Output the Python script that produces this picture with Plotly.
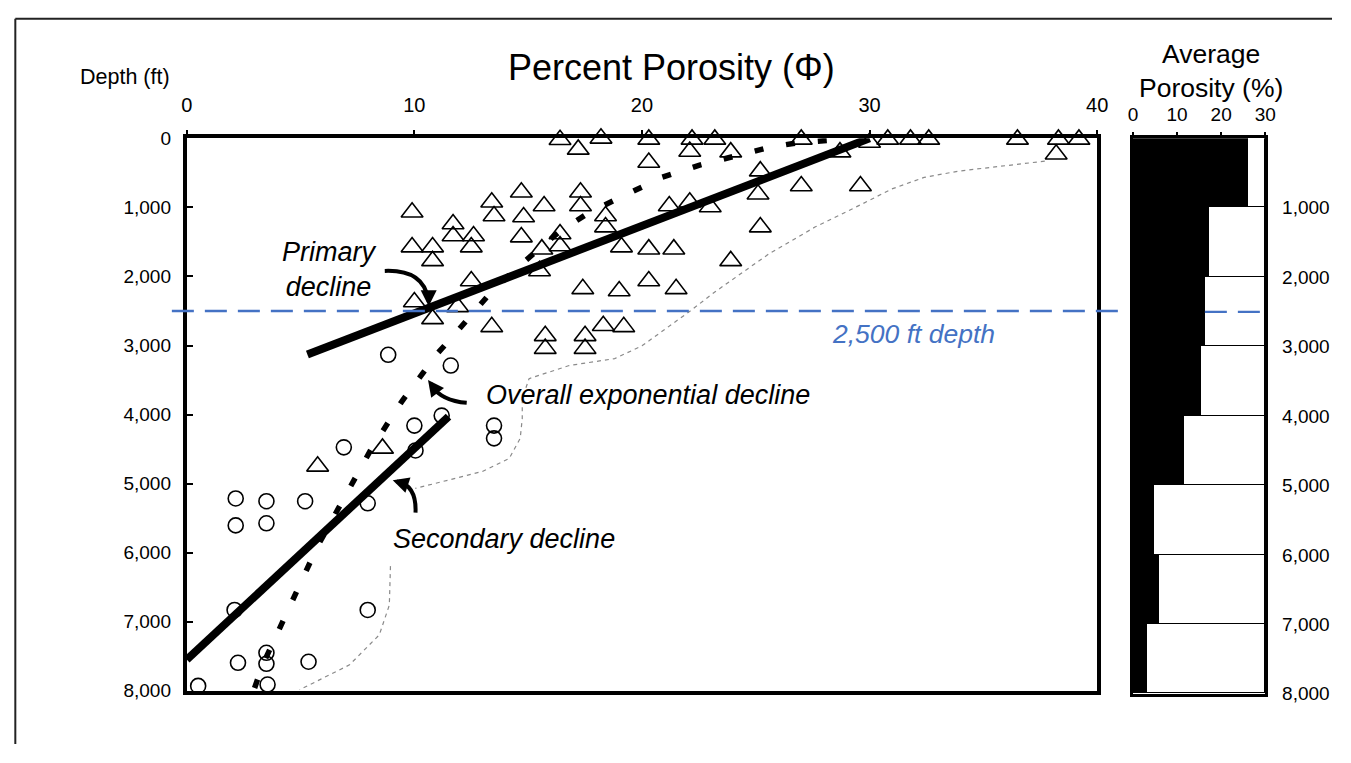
import plotly.graph_objects as go

# figure size (page body adds an 8px margin, so keep it inside the 1351x763 window)
WIN_W, WIN_H = 1351, 763
BODY = 8
W, H = WIN_W - 2 * BODY, WIN_H - 2 * BODY

# ---- data ----
# open triangles: porosity (%) and depth (ft)
tri_phi = [16.4, 17.2, 18.2, 20.3, 22.2, 23.2, 27.0, 30.0, 30.8, 31.8, 32.6, 36.5, 38.3, 39.2, 38.2, 28.7,
           22.1, 23.9, 20.3, 25.2, 27.0, 29.6,
           21.2, 22.1, 23.0, 25.1, 18.4, 18.4, 25.2,
           19.1, 20.3, 21.4, 23.9, 20.3, 19.0, 21.5,
           9.9, 13.4, 13.5, 14.7, 14.8, 15.7, 17.3, 17.3,
           11.7, 11.7, 12.6, 12.5, 9.9, 10.8, 10.8,
           14.7, 15.6, 16.4, 16.4, 15.5, 12.5, 17.4,
           10.0, 10.8, 11.9, 13.4, 15.75, 15.75, 17.5, 17.5, 18.3, 19.2,
           8.6, 5.75]
tri_depth = [20, 160, 0, 15, 15, 15, 15, 60, 15, 15, 15, 15, 15, 15, 230, 200,
             190, 200, 350, 475, 690, 690,
             980, 925, 995, 810, 1125, 1285, 1285,
             1575, 1605, 1605, 1775, 2065, 2210, 2180,
             1070, 925, 1125, 780, 1140, 980, 780, 980,
             1240, 1415, 1415, 1575, 1575, 1575, 1775,
             1430, 1605, 1385, 1560, 1920, 2065, 2180,
             2370, 2615, 2440, 2730, 2860, 3045, 2860, 3045, 2715, 2730,
             4490, 4750]

# open circles
circ_phi = [2.15, 3.5, 5.2, 7.95, 2.15, 3.5, 2.1, 7.95, 3.5, 2.25, 3.5, 5.35, 0.5, 3.55,
            6.9, 8.85, 11.6, 10.0, 11.2, 13.5, 13.5, 10.05]
circ_depth = [5215, 5255, 5255, 5285, 5605, 5575, 6830, 6830, 7450, 7595, 7610, 7580, 7930, 7910,
              4475, 3135, 3290, 4160, 4015, 4160, 4345, 4520]

# trend lines
primary_phi = [5.3, 30.0]
primary_depth = [3130, 0]
secondary_phi = [0.0, 11.5]
secondary_depth = [7550, 4030]

# overall exponential decline (dotted)
expo_phi = [2.98, 3.33, 3.68, 4.34, 5.09, 5.75, 6.71, 7.37, 8.07, 8.82, 9.47, 10.26, 11.0, 11.67,
            12.59, 13.42, 14.6, 15.2, 16.36, 17.7, 19.2, 20.88, 22.5, 25.6, 26.9, 29.0]
expo_depth = [7960, 7625, 7380, 6915, 6395, 5905, 5330, 4925, 4520, 4130, 3800, 3450, 3120, 2875,
              2515, 2210, 1850, 1675, 1355, 1070, 825, 565, 390, 130, 60, 10]

# grey dashed envelope (two pieces)
env_phi = [37.7, 35.8, 33.9, 32.4, 30.96, 29.65, 27.6, 25.57, 23.2, 22.06, 20.0, 18.8, 16.8, 15.04,
           14.74, 14.74, 14.65, 14.17, 12.98, 10.04, None,
           8.95, 8.9, 8.46, 7.15, 4.96]
env_depth = [330, 405, 475, 565, 735, 955, 1285, 1675, 2225, 2515, 3005, 3190, 3290, 3480,
             3770, 4060, 4345, 4635, 4825, 5070, None,
             6195, 6760, 7190, 7625, 7985]

# average porosity per 1,000 ft interval
avg_depth_mid = [500, 1500, 2500, 3500, 4500, 5500, 6500, 7500]
avg_porosity = [26.1, 17.3, 16.3, 15.5, 11.6, 4.7, 5.9, 3.2]
avg_scale_max = 30

marker_depth = 2500


# screenshot pixel -> paper fraction (corrects the small offset/scale seen in the capture)
def px(x):
    return ((x - 3.4) / 0.9923 - BODY) / W


def py(y):
    return 1 - ((y - 10.5) / 0.9747 - BODY) / H


FONT = "Liberation Sans, Arial, sans-serif"
BLUE = "#4472C4"

fig = go.Figure()

fig.add_trace(go.Scatter(x=env_phi, y=env_depth, mode="lines",
                         line=dict(color="#8a8a8a", width=1.2, dash="4px,4px"),
                         hoverinfo="skip", showlegend=False))
fig.add_trace(go.Scatter(x=expo_phi, y=expo_depth, mode="lines",
                         line=dict(color="black", width=5.5, dash="9px,23px"),
                         hoverinfo="skip", showlegend=False))
fig.add_trace(go.Scatter(x=tri_phi, y=tri_depth, mode="markers", cliponaxis=False,
                         marker=dict(symbol="triangle-up-open", size=19, color="black",
                                     line=dict(width=1.6, color="black")),
                         showlegend=False))
fig.add_trace(go.Scatter(x=circ_phi, y=circ_depth, mode="markers", cliponaxis=False,
                         marker=dict(symbol="circle-open", size=15, color="black",
                                     line=dict(width=1.6, color="black")),
                         showlegend=False))
fig.add_trace(go.Scatter(x=primary_phi, y=primary_depth, mode="lines",
                         line=dict(color="black", width=8), showlegend=False))
fig.add_trace(go.Scatter(x=secondary_phi, y=secondary_depth, mode="lines",
                         line=dict(color="black", width=8), showlegend=False))

# right panel: average porosity bars
remainder = [avg_scale_max - v for v in avg_porosity]
fig.add_trace(go.Bar(y=avg_depth_mid, x=avg_porosity, orientation="h", width=1000,
                     marker=dict(color="black", line=dict(width=0)),
                     xaxis="x2", yaxis="y2", showlegend=False))
fig.add_trace(go.Bar(y=avg_depth_mid, x=remainder, orientation="h", width=1000,
                     marker=dict(color="white", line=dict(width=1.2, color="black")),
                     xaxis="x2", yaxis="y2", showlegend=False))

depth_ticks = [0, 1000, 2000, 3000, 4000, 5000, 6000, 7000, 8000]

shapes = [
    # outer frame of the picture
    dict(type="line", xref="paper", yref="paper", x0=0.001, x1=1, y0=0.999, y1=0.999,
         line=dict(color="#222", width=2)),
    dict(type="line", xref="paper", yref="paper", x0=0.001, x1=0.001, y0=0.999, y1=0,
         line=dict(color="#222", width=2)),
    # 2,500 ft marker
    dict(type="line", xref="paper", yref="y", x0=px(170), x1=px(1126), y0=marker_depth, y1=marker_depth,
         line=dict(color=BLUE, width=2.4, dash="22px,11px"), layer="above"),
    dict(type="line", xref="x2", yref="y2", x0=avg_porosity[2], x1=avg_scale_max,
         y0=marker_depth, y1=marker_depth,
         line=dict(color=BLUE, width=2.4, dash="22px,11px"), layer="above"),
    # curved arrows
    dict(type="path", xref="x", yref="y", path="M 8.7,1920 Q 10.4,1900 10.6,2330",
         line=dict(color="black", width=4)),
    dict(type="path", xref="x", yref="y", path="M 12.3,3830 Q 11.2,3800 10.75,3580",
         line=dict(color="black", width=4)),
    dict(type="path", xref="x", yref="y", path="M 10.05,5420 Q 10.1,5040 9.3,4970",
         line=dict(color="black", width=4)),
]


def label(x, y, text, size, color="black", xanchor="center"):
    return dict(x=px(x), y=py(y), xref="paper", yref="paper", text=text, showarrow=False,
                xanchor=xanchor, yanchor="middle", font=dict(size=size, color=color))


annotations = [
    label(672, 68, "Percent Porosity (Φ)", 36),
    label(123, 77, "Depth (ft)", 21.5),
    label(1214, 71, "Average<br>Porosity (%)", 26.5),
    label(328, 271, "<i>Primary<br>decline</i>", 27),
    label(484, 396, "<i>Overall exponential decline</i>", 27, xanchor="left"),
    label(390, 541, "<i>Secondary decline</i>", 27, xanchor="left"),
    label(832, 335, "<i>2,500 ft depth</i>", 26.5, color=BLUE, xanchor="left"),
    # arrow heads
    dict(x=10.63, y=2430, xref="x", yref="y", text="", showarrow=True, ax=0, ay=-9,
         arrowhead=2, arrowsize=0.8, arrowwidth=4, arrowcolor="black"),
    dict(x=10.6, y=3500, xref="x", yref="y", text="", showarrow=True, ax=6, ay=8,
         arrowhead=2, arrowsize=0.8, arrowwidth=4, arrowcolor="black"),
    dict(x=9.05, y=4950, xref="x", yref="y", text="", showarrow=True, ax=9, ay=3,
         arrowhead=2, arrowsize=0.8, arrowwidth=4, arrowcolor="black"),
]

tick_font = dict(family=FONT, size=19, color="black")

fig.update_layout(
    width=W, height=H, autosize=False,
    margin=dict(l=0, r=0, t=0, b=0),
    paper_bgcolor="white", plot_bgcolor="white",
    font=dict(family=FONT, color="black"),
    barmode="stack", bargap=0,
    xaxis=dict(domain=[px(185), px(1100)], range=[0, 40], side="top",
               tickvals=[0, 10, 20, 30, 40], ticks="outside", ticklen=4, tickwidth=2,
               tickcolor="black", ticklabelstandoff=10, tickfont=dict(tick_font, size=20),
               showline=True, linewidth=4, linecolor="black", mirror=True,
               showgrid=False, zeroline=False, anchor="y"),
    yaxis=dict(domain=[py(693), py(139)], range=[8000, 0], tickvals=depth_ticks,
               tickformat=",", ticks="inside", ticklen=6, tickwidth=2, tickcolor="black",
               ticklabelstandoff=8, tickfont=tick_font,
               showline=True, linewidth=4, linecolor="black", mirror=True,
               showgrid=False, zeroline=False, anchor="x"),
    xaxis2=dict(domain=[px(1136), px(1269)], range=[0, avg_scale_max], side="top",
                tickvals=[0, 10, 20, 30], ticks="outside", ticklen=3, tickwidth=2,
                tickcolor="black", tickfont=tick_font, ticklabelstandoff=4,
                showline=True, linewidth=3, linecolor="black", mirror=True,
                showgrid=False, zeroline=False, anchor="y2"),
    yaxis2=dict(domain=[py(696), py(139)], range=[8000, 0], side="right",
                tickvals=depth_ticks[1:], tickformat=",", ticks="", tickfont=tick_font,
                ticklabelstandoff=10,
                showline=True, linewidth=3, linecolor="black", mirror=True,
                showgrid=False, zeroline=False, anchor="x2"),
    shapes=shapes,
    annotations=annotations,
)

fig.write_html("out.html")
